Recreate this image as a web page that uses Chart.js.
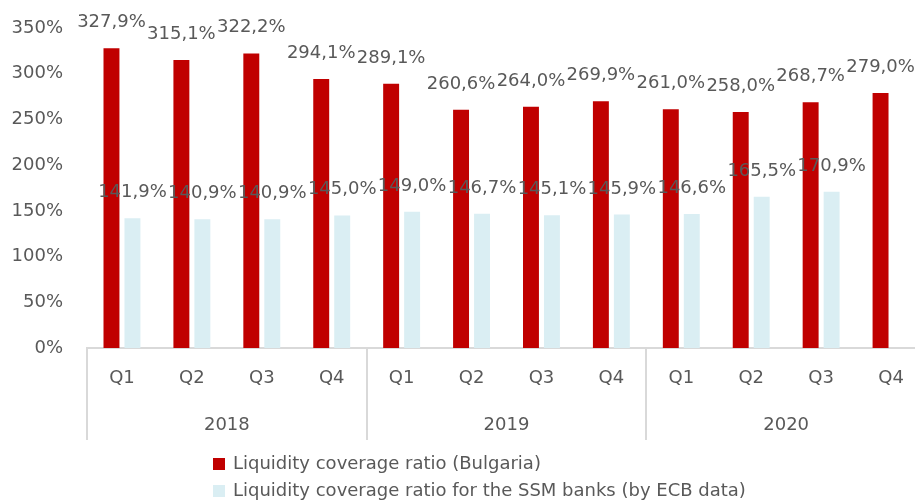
<!DOCTYPE html>
<html lang="en">

<head>
  <meta charset="UTF-8">
  <meta name="viewport" content="width=device-width, initial-scale=1.0">
  <title>Liquidity coverage ratio</title>
  <script src="https://cdn.jsdelivr.net/npm/chart.js"></script>
  <style>
    html, body { margin: 0; padding: 0; background: #fff; overflow: hidden; }
    #wrap { position: relative; width: 926px; height: 504px; }
  </style>
</head>

<body>
  <div id="wrap">
    <canvas id="chartCanvas"></canvas>
  </div>

  <script>
    const quarters = ['Q1', 'Q2', 'Q3', 'Q4', 'Q1', 'Q2', 'Q3', 'Q4', 'Q1', 'Q2', 'Q3', 'Q4'];
    const years = ['2018', '2019', '2020'];
    const lcrBulgaria = [327.9, 315.1, 322.2, 294.1, 289.1, 260.6, 264.0, 269.9, 261.0, 258.0, 268.7, 279.0];
    const lcrSSM = [141.9, 140.9, 140.9, 145.0, 149.0, 146.7, 145.1, 145.9, 146.6, 165.5, 170.9, null];
    const yTicks = [0, 50, 100, 150, 200, 250, 300, 350];

    const seriesNames = [
      'Liquidity coverage ratio (Bulgaria)',
      'Liquidity coverage ratio for the SSM banks (by ECB data)'
    ];
    const seriesColors = ['#C00000', '#DAEEF3'];

    const textColor = '#595959';
    const fontFamily = '"DejaVu Sans", sans-serif';
    const font = { family: fontFamily, size: 18 };

    // "327,9%" style labels
    const fmt = v => v.toFixed(1).replace('.', ',') + '%';

    // value labels above bars, group separators under the axis, legend at the bottom
    const decorations = {
      id: 'decorations',
      afterDatasetsDraw(chart) {
        const ctx = chart.ctx;
        ctx.save();
        ctx.font = `18px ${fontFamily}`;
        ctx.fillStyle = textColor;
        ctx.textAlign = 'center';
        ctx.textBaseline = 'alphabetic';
        chart.data.datasets.forEach((ds, di) => {
          chart.getDatasetMeta(di).data.forEach((bar, i) => {
            const v = ds.data[i];
            if (v == null) return;
            ctx.fillText(fmt(v), bar.x, bar.y - 21);
          });
        });
        ctx.restore();
      },
      afterDraw(chart) {
        const ctx = chart.ctx;
        const x = chart.scales.x;
        const yearAxis = chart.scales.year;
        const half = (x.getPixelForValue(1) - x.getPixelForValue(0)) / 2;

        ctx.save();
        ctx.strokeStyle = '#D9D9D9';
        ctx.lineWidth = 2;
        for (let i = 0; i <= quarters.length; i += 4) {
          const px = Math.round(x.getPixelForValue(i) - half);
          ctx.beginPath();
          ctx.moveTo(px, chart.chartArea.bottom);
          ctx.lineTo(px, yearAxis.bottom + 2);
          ctx.stroke();
        }

        // legend, one entry per row
        ctx.font = `18px ${fontFamily}`;
        ctx.textAlign = 'left';
        ctx.textBaseline = 'middle';
        const legendX = 213;
        const rowY = [464, 491];
        chart.data.datasets.forEach((ds, di) => {
          ctx.fillStyle = ds.backgroundColor;
          ctx.fillRect(legendX, rowY[di] - 6, 12, 12);
          ctx.fillStyle = textColor;
          ctx.fillText(ds.label, legendX + 20, rowY[di]);
        });
        ctx.restore();
      }
    };

    const ctx = document.getElementById('chartCanvas').getContext('2d');
    new Chart(ctx, {
      type: 'bar',
      data: {
        labels: quarters,
        datasets: [
          { label: seriesNames[0], data: lcrBulgaria, backgroundColor: seriesColors[0] },
          { label: seriesNames[1], data: lcrSSM, backgroundColor: seriesColors[1] }
        ]
      },
      options: {
        responsive: true,
        maintainAspectRatio: false,
        animation: false,
        categoryPercentage: 0.6,
        barPercentage: 0.76,
        layout: { padding: { top: 28, right: 0, bottom: 66, left: 0 } },
        plugins: {
          legend: { display: false },
          tooltip: { enabled: false }
        },
        scales: {
          x: {
            position: 'bottom',
            afterFit: scale => { scale.height = 42; },
            grid: { display: false, drawTicks: false },
            border: { display: true, color: '#D9D9D9', width: 2 },
            ticks: { color: textColor, font: font, padding: 20, maxRotation: 0 }
          },
          year: {
            type: 'category',
            position: 'bottom',
            labels: years,
            offset: true,
            afterFit: scale => { scale.height = 48; },
            grid: { display: false, drawTicks: false },
            border: { display: false },
            ticks: { color: textColor, font: font, padding: 25, maxRotation: 0 }
          },
          y: {
            min: 0,
            max: 350,
            afterBuildTicks: scale => { scale.ticks = yTicks.map(v => ({ value: v })); },
            afterFit: scale => {
              scale.width = 87;
              scale.paddingTop = 0;
              scale.paddingBottom = 0;
            },
            grid: { display: false, drawTicks: false },
            border: { display: false },
            ticks: { color: textColor, font: font, padding: 24, callback: v => v + '%' }
          }
        }
      },
      plugins: [decorations]
    });
  </script>
</body>

</html>
